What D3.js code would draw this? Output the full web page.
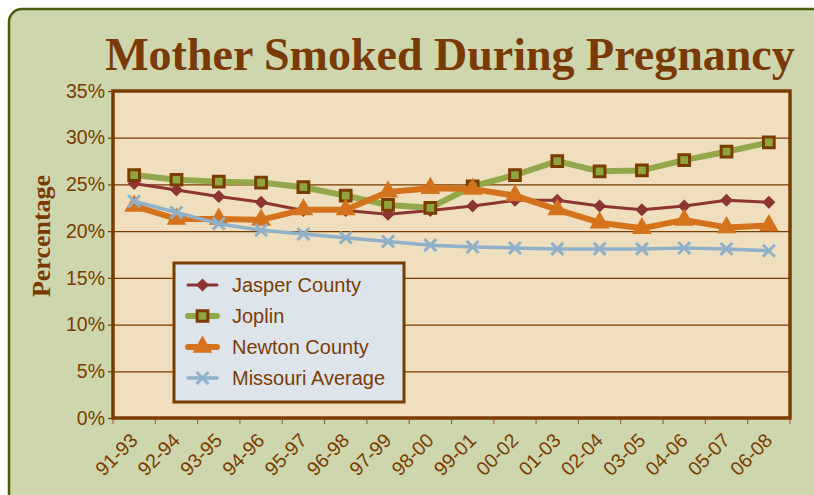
<!DOCTYPE html>
<html><head><meta charset="utf-8">
<script src="https://cdn.jsdelivr.net/npm/d3@7"></script>
<style>html,body{margin:0;padding:0;background:#fff;}svg{display:block;}</style>
</head><body>
<svg id="chart" width="814" height="495"></svg>
<script>
const categories = ["91-93","92-94","93-95","94-96","95-97","96-98","97-99","98-00","99-01","00-02","01-03","02-04","03-05","04-06","05-07","06-08"];
const jasper  = [25.1,24.4,23.7,23.1,22.2,22.2,21.8,22.2,22.7,23.3,23.3,22.7,22.3,22.7,23.3,23.1];
const joplin  = [26.0,25.5,25.3,25.2,24.7,23.8,22.8,22.5,24.8,26.0,27.5,26.4,26.5,27.6,28.5,29.5];
const newton  = [22.7,21.3,21.3,21.2,22.3,22.3,24.2,24.6,24.5,23.8,22.3,20.9,20.3,21.2,20.4,20.6];
const missouri= [23.2,22.0,20.8,20.1,19.7,19.3,18.9,18.5,18.3,18.2,18.1,18.1,18.1,18.2,18.1,17.9];
const yTicks = [0,5,10,15,20,25,30,35];
const seriesNames = ["Jasper County","Joplin","Newton County","Missouri Average"];
const title = "Mother Smoked During Pregnancy";
const yTitle = "Percentage";

const brown = "#7b3c00";
const svg = d3.select("#chart");
// outer panel
svg.append("rect").attr("x",9).attr("y",9).attr("width",830).attr("height",510).attr("rx",13)
  .attr("fill","#cdd6ac").attr("stroke","#4b5e0c").attr("stroke-width",2.5);

const L=113,R=790,T=91,B=418;
const x = d3.scaleBand().domain(categories).range([L,R]);
const y = d3.scaleLinear().domain([0,35]).range([B,T]);
const cx = c => x(c)+x.bandwidth()/2;

svg.append("rect").attr("x",L).attr("y",T).attr("width",R-L).attr("height",B-T).attr("fill","#efdfbe");

// gridlines
const grid = svg.append("g").attr("transform",`translate(${L},0)`)
  .call(d3.axisLeft(y).tickValues(yTicks.filter(v=>v>0&&v<35)).tickSize(-(R-L)).tickFormat(""));
grid.select(".domain").remove();
grid.selectAll("line").attr("stroke",brown).attr("stroke-width",1.3);

// y axis
const ya = svg.append("g").attr("transform",`translate(${L},0)`)
  .call(d3.axisLeft(y).tickValues(yTicks).tickSize(5).tickPadding(3).tickFormat(d=>d+"%"));
ya.select(".domain").remove();
ya.selectAll("line").attr("stroke",brown).attr("stroke-width",1.2);
ya.selectAll("text").attr("fill",brown).style("font-family","'Liberation Sans',Arial,sans-serif").style("font-size","19.5px");

// x ticks at band boundaries
const bounds = categories.map(c=>x(c)).concat([x.range()[1]]);
svg.append("g").selectAll("line").data(bounds).join("line")
  .attr("x1",d=>d).attr("x2",d=>d).attr("y1",B).attr("y2",B+6).attr("stroke","#9b6a3a").attr("stroke-width",1.2);

// x labels
svg.append("g").selectAll("text").data(categories).join("text")
  .attr("transform",c=>`translate(${cx(c)-5},${B+14}) rotate(-45)`)
  .attr("text-anchor","end").attr("dy","0.7em")
  .attr("fill",brown).style("font-family","'Liberation Sans',Arial,sans-serif").style("font-size","19.5px")
  .text(c=>c);

// plot border
svg.append("rect").attr("x",L).attr("y",T).attr("width",R-L).attr("height",B-T)
  .attr("fill","none").attr("stroke",brown).attr("stroke-width",3.5);

// series
const xSym = d3.symbolX || d3.symbolTimes;
const defs = [
  {name:seriesNames[0], vals:jasper, color:"#8c3532", width:3, sym:d3.symbolSquare, rot:45, size:85, fill:"#8c3532", stroke:"none", sw:0},
  {name:seriesNames[1], vals:joplin, color:"#93a84a", width:6, sym:d3.symbolSquare, rot:0, size:115, fill:"#8fa640", stroke:brown, sw:3},
  {name:seriesNames[2], vals:newton, color:"#d4731c", width:6, sym:d3.symbolTriangle, rot:0, size:170, fill:"#d4731c", stroke:"none", sw:0},
  {name:seriesNames[3], vals:missouri, color:"#8fb1c9", width:3.5, sym:xSym, rot:0, size:95, fill:"none", stroke:"#8fb1c9", sw:3}
];
const line = d3.line().x((d,i)=>cx(categories[i])).y(d=>y(d));
defs.forEach(s=>{
  const g = svg.append("g");
  g.append("path").attr("d",line(s.vals)).attr("fill","none").attr("stroke",s.color)
    .attr("stroke-width",s.width).attr("stroke-linejoin","round").attr("stroke-linecap","round");
  g.selectAll("path.m").data(s.vals).join("path").attr("class","m")
    .attr("transform",(d,i)=>`translate(${cx(categories[i])},${y(d)}) rotate(${s.rot})`)
    .attr("d",d3.symbol(s.sym,s.size)()).attr("fill",s.fill).attr("stroke",s.stroke).attr("stroke-width",s.sw);
});

// legend
const lg = svg.append("g");
lg.append("rect").attr("x",174).attr("y",263).attr("width",230).attr("height",139)
  .attr("fill","#dde4ec").attr("stroke",brown).attr("stroke-width",3);
defs.forEach((s,i)=>{
  const yy = 285 + i*31;
  lg.append("line").attr("x1",188).attr("x2",217).attr("y1",yy).attr("y2",yy)
    .attr("stroke",s.color).attr("stroke-width",s.width).attr("stroke-linecap","round");
  lg.append("path").attr("transform",`translate(202.5,${yy}) rotate(${s.rot})`).attr("d",d3.symbol(s.sym,s.size)())
    .attr("fill",s.fill).attr("stroke",s.stroke).attr("stroke-width",s.sw);
  lg.append("text").attr("x",232).attr("y",yy).attr("dy","0.35em").attr("fill",brown)
    .style("font-family","'Liberation Sans',Arial,sans-serif").style("font-size","20px").text(s.name);
});

// titles
svg.append("text").attr("x",450).attr("y",70).attr("text-anchor","middle")
  .attr("fill","#7a3a05").style("font-family","'Liberation Serif',serif")
  .style("font-weight","bold").style("font-size","46px").text(title);
svg.append("text").attr("transform","translate(50,236) rotate(-90)").attr("text-anchor","middle")
  .attr("fill","#7a3a05").style("font-family","'Liberation Serif','DejaVu Serif',serif")
  .style("font-weight","bold").style("font-size","26px").text(yTitle);
</script>
</body></html>
